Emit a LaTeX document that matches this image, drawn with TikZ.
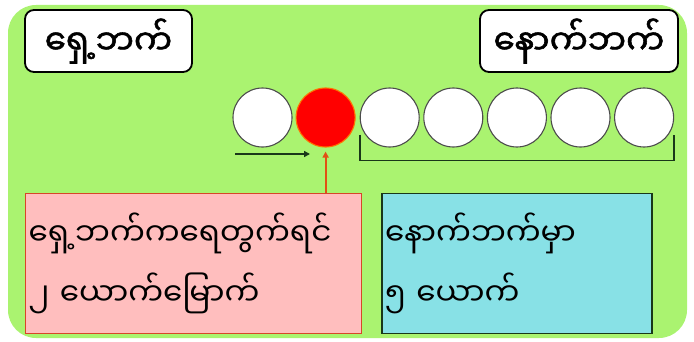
\documentclass[tikz,border=0pt]{standalone}
\usepackage{fontspec}
\newfontfamily\mmfont[Script=Myanmar]{Noto Sans Myanmar UI}
\newfontfamily\mmbold[Script=Myanmar,FakeBold=1.6]{Noto Sans Myanmar UI}
\usetikzlibrary{arrows.meta,positioning,calc}

\definecolor{fieldgreen}{RGB}{170,243,112}
\definecolor{seatpink}{RGB}{255,190,190}
\definecolor{seatcyan}{RGB}{136,225,230}
\definecolor{pinkline}{RGB}{215,70,40}
\definecolor{darkline}{RGB}{25,55,25}
\definecolor{pointer}{RGB}{225,80,20}

\begin{document}
\begin{tikzpicture}[
  x=1pt, y=1pt,
  font=\mmfont,
  tag/.style={draw=black, line width=1.8pt, rounded corners=9pt, fill=white, minimum height=62pt, inner sep=0pt, font=\mmbold\fontsize{34}{36}\selectfont},
  person/.style={circle, draw=black!70, line width=1.1pt, fill=white, minimum size=59pt, inner sep=0pt},
  chosen/.style={person, draw=orange!90!red, fill=red},
  note/.style={draw, line width=1.4pt, minimum height=140pt, inner sep=3pt, align=left, anchor=north west, font=\mmfont\fontsize{31}{60}\selectfont},
  brk/.style={darkline, line width=1.8pt},
  arr/.style={-{Triangle[length=6pt,width=6pt]}, line width=1.6pt}
]
  \useasboundingbox (0,0) rectangle (694,341);
  % Field
  \fill[fieldgreen, rounded corners=28pt] (8,3) rectangle (687,336);

  % Front and back tags
  \node[tag, minimum width=167pt] (front) at (108.5,300) {ရှေ့ဘက်};
  \node[tag, minimum width=198pt] (back) at (579,300) {နောက်ဘက်};

  % Queue of people
  \node[person] (p0) at (262.5,223.5) {};
  \node[chosen, right=3pt of p0] (p1) {};
  \node[person, right=4pt of p1] (p2) {};
  \node[person, right=3.5pt of p2] (p3) {};
  \node[person, right=3.5pt of p3] (p4) {};
  \node[person, right=3.5pt of p4] (p5) {};
  \node[person, right=3.5pt of p5] (p6) {};

  % Walking direction
  \coordinate (walk0) at (235,187);
  \coordinate (walk1) at (310,187);
  \draw[arr, darkline] (walk0) -- (walk1);

  % Bracket under the back people
  \draw[brk] ($(p2.west)+(0,-17pt)$) |- ($(p4.south)+(0,-13pt)$) -| ($(p6.east)+(0,-17pt)$);

  % Notes
  \node[note, draw=pinkline, fill=seatpink, minimum width=336pt, text width=330pt] (count) at (25,148) {ရှေ့ဘက်ကရေတွက်ရင်\\၂ ယောက်မြောက်};
  \node[note, draw=darkline, fill=seatcyan, minimum width=270pt, text width=264pt, right=19pt of count.north east, anchor=north west] (rest) {နောက်ဘက်မှာ\\၅ ယောက်};

  % Pointer to the chosen one
  \draw[arr, pointer, line width=2pt] (count.north -| p1) -- ([yshift=-4pt]p1.south);
\end{tikzpicture}
\end{document}
